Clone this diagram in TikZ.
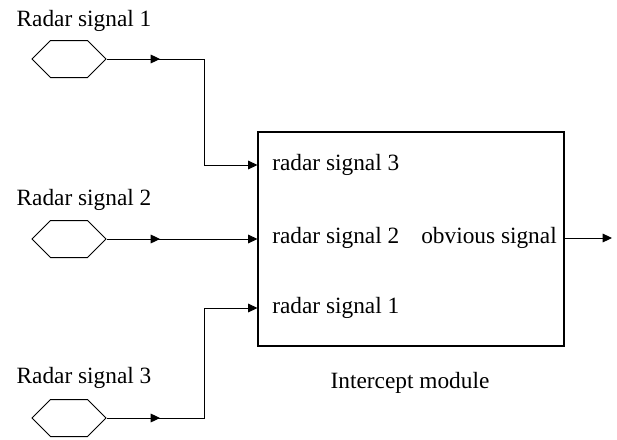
\documentclass[tikz,border=0pt]{standalone}
\usepackage{fontspec}
\setmainfont{Liberation Serif}
\usetikzlibrary{arrows.meta,shapes.symbols,decorations.markings}

\begin{document}
\begin{tikzpicture}[x=0.75pt,y=-0.75pt]
    \tikzset{line/.style={draw,line width=0.75pt}}
    \tikzset{arrow/.style={line,-{Triangle[length=7pt,width=6.5pt]}}}
    \tikzset{midarrow/.style={postaction={decorate},decoration={markings,mark=at position 40pt with {\arrow{Triangle[length=7pt,width=6.5pt]}}}}}
    \tikzset{source/.style={line,signal,signal to=west and east,signal pointer angle=90,minimum width=55.5pt,minimum height=27.75pt,inner sep=0pt}}
    \tikzset{txt/.style={font=\fontsize{17.5}{21}\selectfont,inner sep=0pt}}

    \useasboundingbox (0,0) rectangle (617,439);

    \node[txt] (l1) at (84,21) {Radar signal 1};
    \node[txt] (l2) at (84,200) {Radar signal 2};
    \node[txt] (l3) at (84,378) {Radar signal 3};

    \node[source] (s1) at (69,59) {};
    \node[source] (s2) at (69,239) {};
    \node[source] (s3) at (69,418) {};

    \node[line,minimum width=229.5pt,minimum height=160.5pt,line width=0.8pt] (box) at (411,239) {};
    \node[txt,anchor=west] (t3) at (272,165) {radar signal 3};
    \node[txt,anchor=west] (t2) at (272,238) {radar signal 2};
    \node[txt,anchor=west] (t1) at (272,308) {radar signal 1};
    \node[txt,anchor=east] (o) at (557,238) {obvious signal};
    \node[txt] (name) at (410,383) {Intercept module};
    \coordinate (out) at (612,238);

    \path[arrow,midarrow] (s1.east) -- ++(98,0) |- (t3.west -| box.west);
    \path[arrow,midarrow] (s2.east) -- (s2.east -| box.west);
    \path[arrow,midarrow] (s3.east) -- ++(98,0) |- (t1.west -| box.west);
    \path[arrow] (box.east |- out) -- (out);

\end{tikzpicture}
\end{document}
